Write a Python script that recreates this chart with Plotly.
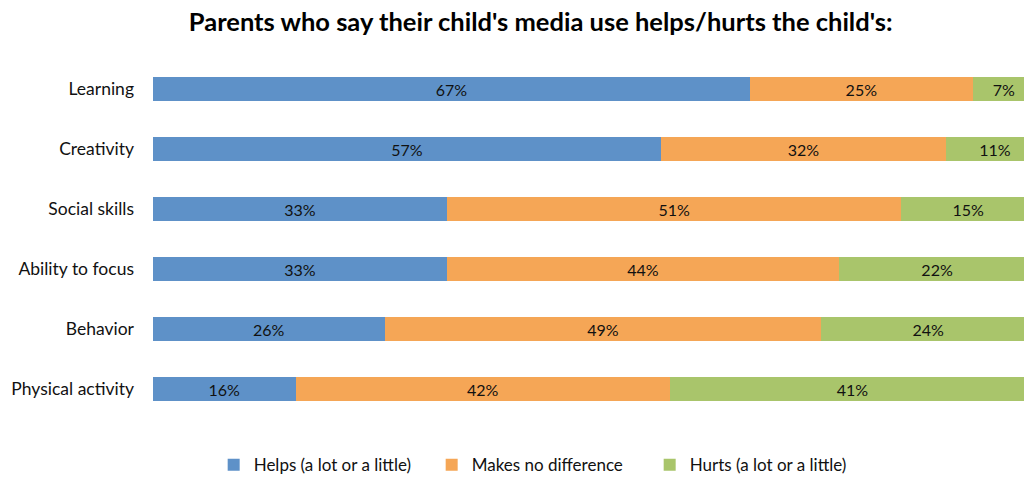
import plotly.graph_objects as go

categories = ["Learning", "Creativity", "Social skills", "Ability to focus", "Behavior", "Physical activity"]
helps = [67, 57, 33, 33, 26, 16]
no_diff = [25, 32, 51, 44, 49, 42]
hurts = [7, 11, 15, 22, 24, 41]
series_names = ["Helps (a lot or a little)", "Makes no difference", "Hurts (a lot or a little)"]
colors = ["#5E91C8", "#F5A656", "#A9C56B"]

fig = go.Figure()
for name, vals, col in zip(series_names, [helps, no_diff, hurts], colors):
    fig.add_trace(go.Bar(
        y=categories, x=vals, name=name, orientation="h",
        marker=dict(color=col, line=dict(width=0)),
        text=[f"{v}%" for v in vals], textposition="inside",
        insidetextanchor="middle", textangle=0, constraintext="none",
        insidetextfont=dict(family="Lato", size=16, color="#111111"),
        hoverinfo="skip",
    ))

fig.update_layout(
    barmode="stack", bargap=0.59,
    width=1024, height=477,
    margin=dict(l=153, r=0, t=59, b=58),
    paper_bgcolor="white", plot_bgcolor="white",
    font=dict(family="Lato", size=17, color="#111111"),
    title=dict(text="<b>Parents who say their child's media use helps/hurts the child's:</b>",
               xref="container", x=0.528, xanchor="center",
               yref="container", y=0.953, yanchor="middle",
               font=dict(family="Lato", size=25.5, color="#000000")),
    legend=dict(orientation="h", xref="container", x=0.528, xanchor="center",
                yref="container", y=0.025, yanchor="middle",
                font=dict(family="Lato", size=17, color="#111111"),
                itemwidth=30, entrywidth=173, entrywidthmode="pixels",
                traceorder="normal"),
    showlegend=True,
)
fig.update_xaxes(range=[0, 97.75], visible=False, fixedrange=True)
fig.update_yaxes(autorange="reversed", showgrid=False, zeroline=False, showline=False, fixedrange=True,
                 ticks="", ticklabelstandoff=18, tickfont=dict(family="Lato", size=17.5, color="#111111"))

fig.write_html("out.html", config={"displayModeBar": False, "staticPlot": True},
               post_script="document.body.style.margin='0';document.body.style.overflow='hidden';")
